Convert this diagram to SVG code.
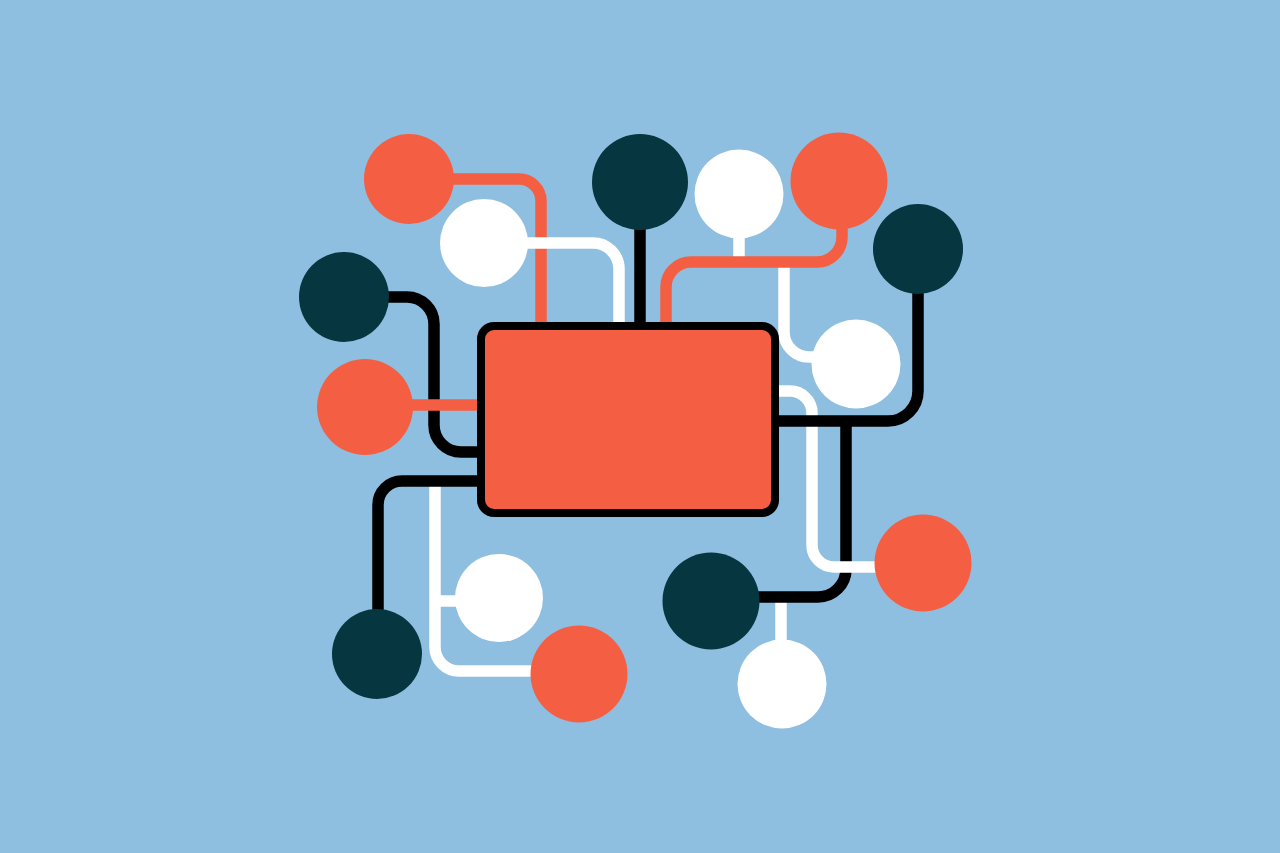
<svg xmlns="http://www.w3.org/2000/svg" width="1280" height="853" viewBox="0 0 1280 853">
<style>
.ln{fill:none;stroke-width:11.5;stroke-linejoin:round}
.o{stroke:#F45F43}.w{stroke:#FFFFFF}.k{stroke:#000000}
.fo{fill:#F45F43}.fw{fill:#FFFFFF}.fk{fill:#06363F}
</style>
<rect width="1280" height="853" fill="#8FBFE0"/>
<g id="connectors">
<path class="ln w" d="M435 481 V647 A24 24 0 0 0 459 671 H579"/>
<path class="ln w" d="M435 601 H499"/>
<path class="ln k" d="M481 481 H402 A24 24 0 0 0 378 505 V654"/>
<path class="ln k" d="M344 297 H407 A27 27 0 0 1 434 324 V425 A27 27 0 0 0 461 452 H481"/>
<path class="ln o" d="M365 405 H481"/>
<path class="ln o" d="M409 179 H519 A22 22 0 0 1 541 201 V326"/>
<path class="ln w" d="M484 243 H593 A26 26 0 0 1 619 269 V326"/>
<path class="ln k" d="M640 182 V326"/>
<path class="ln w" d="M739 194 V262"/>
<path class="ln w" d="M784 262 V332 A25 25 0 0 0 809 357 H856"/>
<path class="ln o" d="M842 181 V237 A25 25 0 0 1 817 262 H691 A25 25 0 0 0 666 287 V326"/>
<path class="ln w" d="M781 597 V684"/>
<path class="ln k" d="M846 421 V569 A28 28 0 0 1 818 597 H711"/>
<path class="ln w" d="M777 391 H790 A22 22 0 0 1 812 413 V545 A22 22 0 0 0 834 567 H923"/>
<path class="ln k" d="M918 249 V391 A30 30 0 0 1 888 421 H777"/>
</g>
<g id="hub"><rect x="481" y="326" width="294" height="187" rx="13" fill="#F45F43" stroke="#000" stroke-width="8"/></g>
<g id="n1"><circle class="fo" cx="409" cy="179" r="45"/></g>
<g id="n2"><circle class="fw" cx="484" cy="243" r="44"/></g>
<g id="n3"><circle class="fk" cx="344" cy="297" r="45"/></g>
<g id="n4"><circle class="fo" cx="365" cy="407" r="48"/></g>
<g id="n5"><circle class="fk" cx="640" cy="182" r="48"/></g>
<g id="n6"><circle class="fw" cx="739" cy="194" r="44.5"/></g>
<g id="n7"><circle class="fo" cx="839" cy="181" r="48.5"/></g>
<g id="n8"><circle class="fk" cx="918" cy="249" r="45"/></g>
<g id="n9"><circle class="fw" cx="856" cy="364" r="44.5"/></g>
<g id="n10"><circle class="fk" cx="377" cy="654" r="45"/></g>
<g id="n11"><circle class="fw" cx="499" cy="598" r="44"/></g>
<g id="n12"><circle class="fo" cx="579" cy="674" r="48.5"/></g>
<g id="n13"><circle class="fo" cx="923" cy="563" r="48.5"/></g>
<g id="n14"><circle class="fk" cx="711" cy="601" r="48.5"/></g>
<g id="n15"><circle class="fw" cx="782" cy="684" r="44.5"/></g>
</svg>
